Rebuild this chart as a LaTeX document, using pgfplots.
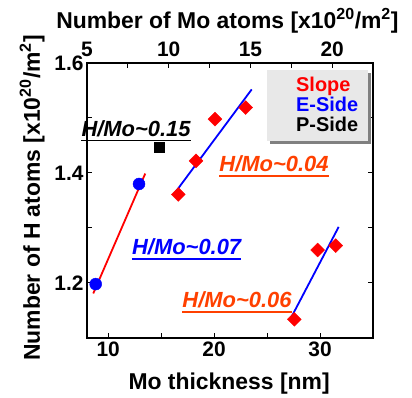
\documentclass[border=0pt]{standalone}
\usepackage{pgfplots}
\pgfplotsset{compat=1.18}
\usepackage{fontspec}
\setmainfont{Liberation Sans}
\definecolor{hred}{RGB}{255,0,0}
\definecolor{hblue}{RGB}{0,0,255}
\definecolor{horange}{RGB}{255,64,0}
\definecolor{boxfill}{RGB}{232,232,232}
\definecolor{boxshadow}{RGB}{128,128,128}
\begin{document}
\begin{tikzpicture}
\begin{axis}[
  scale only axis, width=286bp, height=275bp,
  xmin=8, xmax=35, ymin=1.1, ymax=1.6,
  xtick={10,20,30}, minor xtick={15,25,35},
  ytick={1.2,1.4,1.6}, minor ytick={1.3,1.5},
  yticklabels={1.2,1.4,1.6},
  xtick pos=left, ytick pos=both,
  tick align=inside,
  major tick length=5bp, minor tick length=5bp,
  every tick/.style={black, line width=1bp},
  axis line style={line width=1.5bp},
  /pgf/number format/assume math mode=true,
  ticklabel style={font=\fontsize{21}{24}\selectfont\bfseries},
  xlabel={Mo thickness [nm]},
  ylabel={Number of H atoms [x10\textsuperscript{20}/m\textsuperscript{2}]},
  label style={font=\fontsize{23}{26}\selectfont\bfseries},
  xlabel style={at={(axis description cs:0.497,-0.1855)}, anchor=base},
  ylabel style={at={(axis description cs:-0.192,0.509)}, anchor=center},
  clip=false,
]
% legend box
\fill[boxshadow] (axis cs:25.25,1.582) rectangle (axis cs:34.8,1.452);
\fill[boxfill] (axis cs:24.96,1.587) rectangle (axis cs:34.53,1.458);
\node[anchor=base west, text=hred, font=\fontsize{20}{22}\selectfont\bfseries, inner sep=0] at (axis cs:27.73,1.549) {Slope};
\node[anchor=base west, text=hblue, font=\fontsize{20}{22}\selectfont\bfseries, inner sep=0] at (axis cs:27.73,1.5115) {E-Side};
\node[anchor=base west, text=black, font=\fontsize{20}{22}\selectfont\bfseries, inner sep=0] at (axis cs:27.73,1.475) {P-Side};
% fit lines
\addplot[hred, line width=1.8bp] coordinates {(8.59,1.181) (13.50,1.399)};
\addplot[hblue, line width=1.8bp] coordinates {(16.15,1.36) (23.55,1.552)};
\addplot[hblue, line width=1.8bp] coordinates {(27.16,1.133) (31.76,1.302)};
% E-side
\addplot[only marks, mark=*, mark size=6bp, hblue] coordinates {(8.82,1.198) (12.91,1.38)};
% P-side
\addplot[only marks, mark=square*, mark size=5bp, black] coordinates {(14.77,1.446)};
% Slope
\addplot[only marks, mark=square*, mark size=4.9bp, mark options={rotate=45}, hred] coordinates {(16.62,1.361) (18.29,1.422) (20.08,1.498) (22.98,1.519) (27.57,1.134) (29.78,1.26) (31.48,1.268)};
% annotations
\node[font=\fontsize{22}{24}\selectfont\bfseries\itshape, text=black, inner sep=0] (a1) at (axis cs:12.63,1.48) {H/Mo\textasciitilde 0.15};
\node[font=\fontsize{22}{24}\selectfont\bfseries\itshape, text=horange, inner sep=0] (a2) at (axis cs:25.65,1.416) {H/Mo\textasciitilde 0.04};
\node[font=\fontsize{22}{24}\selectfont\bfseries\itshape, text=hblue, inner sep=0] (a3) at (axis cs:17.41,1.265) {H/Mo\textasciitilde 0.07};
\node[font=\fontsize{22}{24}\selectfont\bfseries\itshape, text=horange, inner sep=0] (a4) at (axis cs:22.16,1.169) {H/Mo\textasciitilde 0.06};
\coordinate (SW) at (rel axis cs:0,0);
\coordinate (NE) at (rel axis cs:1,1);
\end{axis}
\draw[black, line width=1.5bp] ([yshift=-4bp]a1.base west) -- ([yshift=-4bp]a1.base east);
\draw[horange, line width=1.5bp] ([yshift=-4bp]a2.base west) -- ([yshift=-4bp]a2.base east);
\draw[hblue, line width=1.5bp] ([yshift=-4bp]a3.base west) -- ([yshift=-4bp]a3.base east);
\draw[horange, line width=1.5bp] ([yshift=-4bp]a4.base west) -- ([yshift=-4bp]a4.base east);
\begin{axis}[
  scale only axis, width=286bp, height=275bp,
  xmin=5, xmax=22.5, ymin=0, ymax=1,
  axis x line*=top, axis y line=none,
  xtick={5,10,15,20}, minor xtick={7.5,12.5,17.5,22.5},
  tick align=inside,
  major tick length=5bp, minor tick length=5bp,
  every tick/.style={black, line width=1bp},
  axis line style={line width=1.5bp},
  /pgf/number format/assume math mode=true,
  ticklabel style={font=\fontsize{21}{24}\selectfont\bfseries},
  xticklabel style={yshift=3bp},
  xlabel={Number of Mo atoms [x10\textsuperscript{20}/m\textsuperscript{2}]},
  label style={font=\fontsize{23}{26}\selectfont\bfseries},
  xlabel style={at={(axis description cs:0.491,1.126)}, anchor=base},
]
\end{axis}
\path (SW) ++(-87bp,-56bp) coordinate (BB1);
\path (NE) ++(39bp,63bp) coordinate (BB2);
\path (BB1) rectangle (BB2);
\end{tikzpicture}
\end{document}
